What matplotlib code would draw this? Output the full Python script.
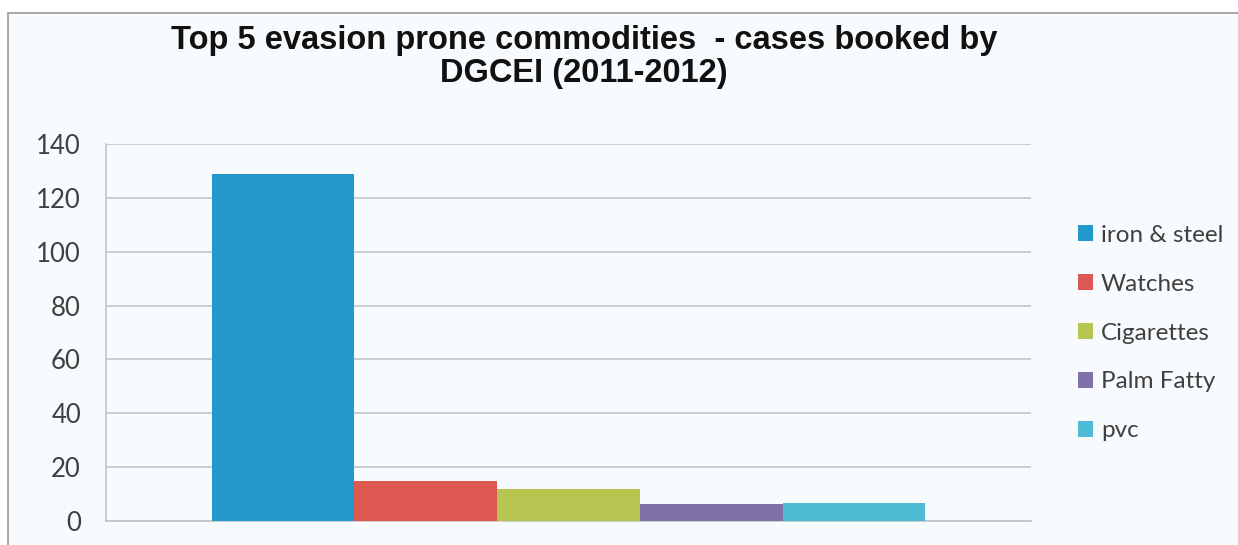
import numpy as np
import matplotlib.pyplot as plt
from matplotlib.patches import Patch, Rectangle

# dati
commodities = ["iron & steel", "Watches", "Cigarettes", "Palm Fatty", "pvc"]
cases = [129, 15, 12, 6.4, 6.6]
colors = ["#2398cc", "#dc5850", "#b6c550", "#8071a9", "#4ebbd5"]
yticks = [0, 20, 40, 60, 80, 100, 120, 140]

bg = "#f8fbfd"
grid_col = "#c4c4c4"
txt_col = "#404040"

fig = plt.figure(figsize=(12.38, 5.45), dpi=100)
fig.patch.set_facecolor("white")

# cornice del grafico (stile Excel)
frame = Rectangle((8/1238, -0.05), 1.1, 1 - 13/545 + 0.05, transform=fig.transFigure,
                  facecolor=bg, edgecolor="#9a9a9a", linewidth=1.2, zorder=-1)
fig.patches.append(frame)

ax = fig.add_axes([106/1238, 1 - 521/545, (1031 - 106)/1238, (521 - 144)/545])
ax.set_facecolor(bg)
ax.set_zorder(1)

x = np.arange(len(cases)) - 2
ax.bar(x, cases, width=1.0, color=colors, zorder=3)

ax.set_xlim(-3.24, 3.24)
ax.set_ylim(0, 140)
ax.set_yticks(yticks)
ax.set_xticks([])
ax.yaxis.grid(True, color=grid_col, linewidth=1.2, zorder=0)
ax.tick_params(axis="y", length=0, pad=18, labelsize=18.5, labelcolor=txt_col)
for lab in ax.get_yticklabels():
    lab.set_family("Lato")

for s in ["top", "right"]:
    ax.spines[s].set_visible(False)
ax.spines["left"].set_color(grid_col)
ax.spines["bottom"].set_color(grid_col)
ax.spines["left"].set_linewidth(1.2)
ax.spines["bottom"].set_linewidth(1.2)

fig.text(584/1238, 1 - 57/545, "Top 5 evasion prone commodities  - cases booked by\nDGCEI (2011-2012)",
         ha="center", va="center", fontsize=23.5, fontweight="bold", family="Liberation Sans",
         color="#111111", linespacing=1.12)

handles = [Patch(facecolor=c, edgecolor="none") for c in colors]
leg = fig.legend(handles, commodities, loc="center left", bbox_to_anchor=(1078/1238, 1 - 333/545),
                 frameon=False, handlelength=0.6, handleheight=0.6, borderpad=0, borderaxespad=0,
                 handletextpad=0.35, labelspacing=1.15, prop={"family": "Lato", "size": 17.5})
for t in leg.get_texts():
    t.set_color(txt_col)

fig.savefig("out.png", dpi=100, facecolor=fig.get_facecolor())
